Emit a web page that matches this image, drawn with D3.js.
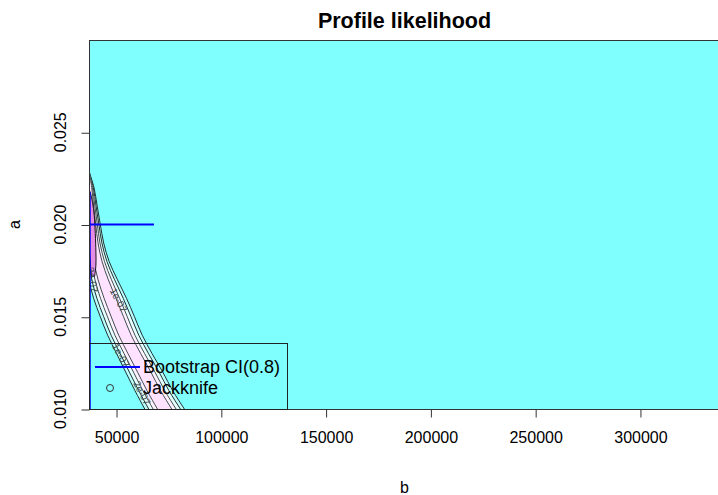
<!DOCTYPE html>
<html>
<head>
<meta charset="utf-8">
<script src="https://cdn.jsdelivr.net/npm/d3@7"></script>
<style>
  html, body { margin: 0; padding: 0; background: #ffffff; }
  svg { display: block; font-family: "Liberation Sans", Arial, sans-serif; }
</style>
</head>
<body>
<svg id="chart" width="718" height="495"></svg>
<script>
// ---- data ----
const xTicks = [50000, 100000, 150000, 200000, 250000, 300000];
const yTicks = [0.010, 0.015, 0.020, 0.025];
const xDomain = [37100, 338200];
const yDomain = [0.010, 0.030];

// outer contour of the profile-likelihood ridge: a value, left and right b
const ridgeA      = [0.0228, 0.022, 0.021, 0.020, 0.019, 0.018, 0.017, 0.016, 0.015, 0.014, 0.013, 0.012, 0.011, 0.010, 0.0095];
const ridgeLeftB  = [37300, 36100, 35700, 35700, 35700, 36100, 37100, 39300, 42500, 46000, 50300, 54600, 59000, 63700, 66100];
const ridgeRightB = [37300, 39500, 41000, 42500, 44100, 46700, 50700, 55000, 58800, 62500, 67200, 72300, 77000, 82600, 85500];

// contour levels (relative width of each nested contour) and image colours
const levelWidth  = [1, 0.8, 0.58, 0.36];
const levelFill   = ["#BCFFFF", "#E8FFFF", "#FFF0FF", "#FFE2FF"];

// high-likelihood core near the top of the ridge
const coreA      = [0.0218, 0.0212, 0.0205, 0.0195, 0.0185, 0.0178, 0.0172];
const coreLeftB  = [37000, 36900, 36900, 37000, 37300, 37800, 38300];
const coreRightB = [37600, 38800, 39600, 40100, 40400, 40400, 39800];

// contour labels
const labelText = ["1e-07", "1e-07", "2e-07", "2e-07"];
const labelB    = [51200, 52300, 62400, 38700];
const labelA    = [0.01590, 0.01290, 0.01087, 0.01700];
const labelRot  = [62, 62, 62, 80];

// bootstrap CI lines
const ciA = 0.020, ciBLow = 37100, ciBHigh = 68100;
const ciVertA = [0.02175, 0.010];

const legendLabels = ["Bootstrap CI(0.8)", "Jackknife"];

// ---- layout ----
const svg = d3.select("#chart");
const plot = {left: 89, top: 40, right: 720, bottom: 409};

const x = d3.scaleLinear().domain(xDomain).range([plot.left, plot.right]);
const y = d3.scaleLinear().domain(yDomain).range([plot.bottom, plot.top]);

svg.append("defs").append("clipPath").attr("id", "clip")
  .append("rect").attr("x", plot.left).attr("y", plot.top)
  .attr("width", plot.right - plot.left).attr("height", plot.bottom - plot.top);

// background image colour
svg.append("rect").attr("x", plot.left).attr("y", plot.top)
  .attr("width", plot.right - plot.left).attr("height", plot.bottom - plot.top)
  .attr("fill", "#80FFFF");

const g = svg.append("g").attr("clip-path", "url(#clip)");

const ridge = ridgeA.map((a, i) => ({a, c: (ridgeLeftB[i] + ridgeRightB[i]) / 2, h: (ridgeRightB[i] - ridgeLeftB[i]) / 2}));

levelWidth.forEach((f, k) => {
  const area = d3.area()
    .y(d => y(d.a))
    .x0(d => x(d.c - f * d.h))
    .x1(d => x(d.c + f * d.h))
    .curve(d3.curveCatmullRom);
  g.append("path").datum(ridge).attr("d", area)
    .attr("fill", levelFill[k])
    .attr("stroke", k < 2 ? "#1f2f2f" : "#3f4f4f")
    .attr("stroke-width", 1);
});

// core
const core = coreA.map((a, i) => ({a, l: coreLeftB[i], r: coreRightB[i]}));
g.append("path").datum(core)
  .attr("d", d3.area().y(d => y(d.a)).x0(d => x(d.l)).x1(d => x(d.r)).curve(d3.curveCatmullRom))
  .attr("fill", "#E58CE5").attr("stroke", "#111").attr("stroke-width", 1);

// contour labels
labelText.forEach((t, i) => {
  g.append("text")
    .attr("transform", `translate(${x(labelB[i])},${y(labelA[i])}) rotate(${labelRot[i]})`)
    .attr("text-anchor", "middle").attr("dy", "0.35em")
    .attr("font-size", 10).attr("fill", "#3a4a4a")
    .text(t);
});

// bootstrap CI
g.append("line").attr("x1", x(ciBLow)).attr("x2", x(ciBHigh))
  .attr("y1", y(ciA)).attr("y2", y(ciA))
  .attr("stroke", "#0000FF").attr("stroke-width", 2);
g.append("line").attr("x1", x(ciBLow) + 1).attr("x2", x(ciBLow) + 1)
  .attr("y1", y(ciVertA[0])).attr("y2", y(ciVertA[1]))
  .attr("stroke", "#0000FF").attr("stroke-width", 1.5);

// plot box
svg.append("rect").attr("x", plot.left + 0.5).attr("y", plot.top + 0.5)
  .attr("width", plot.right - plot.left).attr("height", plot.bottom - plot.top)
  .attr("fill", "none").attr("stroke", "#333").attr("stroke-width", 1);

// axes
const xAxis = d3.axisBottom(x).tickValues(xTicks).tickFormat(d3.format("d")).tickSize(8).tickPadding(14);
const gx = svg.append("g").attr("transform", `translate(0.5,${plot.bottom + 0.5})`).call(xAxis);
gx.select(".domain").remove();
gx.selectAll("text").attr("font-size", 16).attr("fill", "#000").attr("font-family", "Liberation Sans, Arial, sans-serif");
gx.selectAll("line").attr("stroke", "#333");

const yAxis = d3.axisLeft(y).tickValues(yTicks).tickFormat(d3.format(".3f")).tickSize(8);
const gy = svg.append("g").attr("transform", `translate(${plot.left + 0.5},0.5)`).call(yAxis);
gy.select(".domain").remove();
gy.selectAll("line").attr("stroke", "#333");
gy.selectAll("text").remove();
yTicks.forEach(v => {
  svg.append("text")
    .attr("transform", `translate(66,${y(v)}) rotate(-90)`)
    .attr("text-anchor", "middle")
    .attr("font-size", 16).attr("fill", "#000")
    .text(d3.format(".3f")(v));
});

// titles
svg.append("text").attr("x", (plot.left + plot.right) / 2).attr("y", 28)
  .attr("text-anchor", "middle").attr("font-size", 21.5).attr("font-weight", "bold")
  .text("Profile likelihood");
svg.append("text").attr("x", (plot.left + plot.right) / 2).attr("y", 493)
  .attr("text-anchor", "middle").attr("font-size", 16).text("b");
svg.append("text").attr("transform", `translate(20,${(plot.top + plot.bottom) / 2}) rotate(-90)`)
  .attr("text-anchor", "middle").attr("font-size", 16).text("a");

// legend
const lg = svg.append("g");
const lgBox = {x: plot.left, y: 343, w: 198, h: plot.bottom - 343};
lg.append("rect").attr("x", lgBox.x + 0.5).attr("y", lgBox.y + 0.5)
  .attr("width", lgBox.w).attr("height", lgBox.h)
  .attr("fill", "none").attr("stroke", "#222").attr("stroke-width", 1);
lg.append("line").attr("x1", lgBox.x + 6).attr("x2", lgBox.x + 51)
  .attr("y1", lgBox.y + 24).attr("y2", lgBox.y + 24)
  .attr("stroke", "#0000FF").attr("stroke-width", 2);
lg.append("circle").attr("cx", lgBox.x + 21).attr("cy", lgBox.y + 45).attr("r", 3.5)
  .attr("fill", "none").attr("stroke", "#333").attr("stroke-width", 1);
legendLabels.forEach((t, i) => {
  lg.append("text").attr("x", lgBox.x + 54).attr("y", lgBox.y + 24 + i * 21)
    .attr("dy", "0.35em").attr("font-size", 18).attr("fill", "#000").text(t);
});
</script>
</body>
</html>
